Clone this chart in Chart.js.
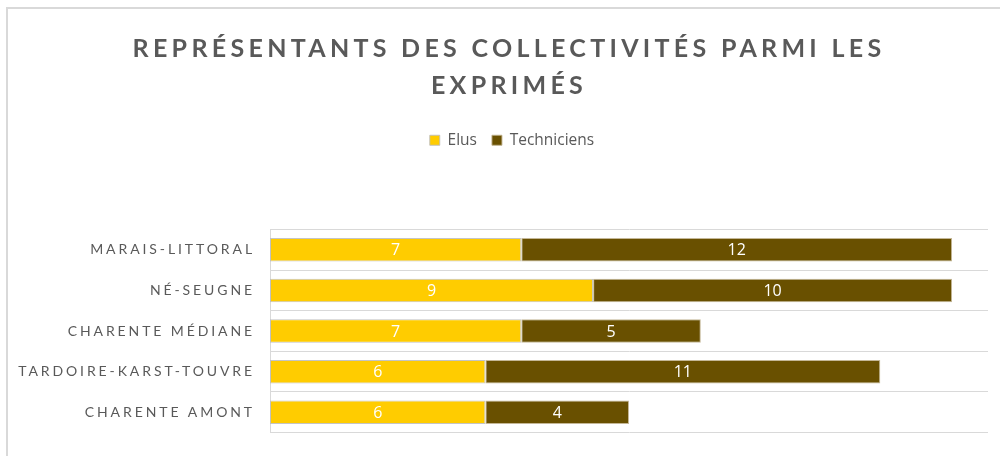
<!DOCTYPE html>
<html><head><meta charset="utf-8">
<script src="https://cdn.jsdelivr.net/npm/chart.js@4.4.0/dist/chart.umd.min.js"></script>
<style>html,body{margin:0;padding:0;background:#fff;}canvas{display:block}</style>
</head><body>
<canvas id="c" width="1000" height="456"></canvas>
<script>
const titleLines = ['REPRÉSENTANTS DES COLLECTIVITÉS PARMI LES', 'EXPRIMÉS'];
const categories = ['MARAIS-LITTORAL', 'NÉ-SEUGNE', 'CHARENTE MÉDIANE', 'TARDOIRE-KARST-TOUVRE', 'CHARENTE AMONT'];
const seriesNames = ['Elus', 'Techniciens'];
const elus = [7, 9, 7, 6, 6];
const techniciens = [12, 10, 5, 11, 4];
const axisMin = 0;
const axisMax = 20;

const FONT = 'Lato';
const GREY = '#595959';
const CAT_SPACING = '2.9px';
const TITLE_SPACING = '4.3px';
const HEADER_SHIFT = 15;

Chart.defaults.font.family = FONT;

function patchDraw(obj, fn) {
  if (!obj || obj._patched) return;
  const orig = obj.draw;
  obj.draw = function (area) {
    const cx = this.ctx; cx.save(); fn(cx); orig.call(this, area); cx.restore();
  };
  obj._patched = true;
}

const framePlugin = {
  id: 'frame',
  beforeDraw(chart) {
    const c = chart.ctx;
    c.save();
    c.fillStyle = '#ffffff';
    c.fillRect(0, 0, chart.width, chart.height);
    c.fillStyle = '#d9d9d9';
    c.fillRect(6, 7, chart.width - 6, 2);
    c.fillRect(6, 7, 2, chart.height - 7);
    c.restore();
    const ys = chart.scales.y;
    if (ys && !ys._lsPatched) {
      const orig = ys.drawLabels;
      ys.drawLabels = function (area) {
        const cx = this.ctx; cx.save(); cx.letterSpacing = CAT_SPACING; orig.call(this, area); cx.restore();
      };
      ys._lsPatched = true;
    }
    patchDraw(chart.titleBlock, (cx) => { cx.translate(HEADER_SHIFT, 0); cx.letterSpacing = TITLE_SPACING; });
    patchDraw(chart.legend, (cx) => { cx.translate(HEADER_SHIFT + 3, 0); });
  }
};

const labelPlugin = {
  id: 'segLabels',
  afterDatasetsDraw(chart) {
    const c = chart.ctx;
    c.save();
    c.font = '16px "Open Sans"';
    c.fillStyle = '#ffffff';
    c.textAlign = 'center';
    c.textBaseline = 'middle';
    chart.data.datasets.forEach((ds, di) => {
      const meta = chart.getDatasetMeta(di);
      meta.data.forEach((el, i) => {
        const p = el.getCenterPoint();
        c.fillText(String(ds.data[i]), p.x, p.y + 1);
      });
    });
    c.restore();
  }
};

new Chart(document.getElementById('c'), {
  type: 'bar',
  data: {
    labels: categories,
    datasets: [
      { label: seriesNames[0], data: elus, backgroundColor: '#FFCC00', borderColor: 'rgba(190,190,190,0.9)', borderWidth: 1, borderSkipped: false, barPercentage: 0.58, categoryPercentage: 1 },
      { label: seriesNames[1], data: techniciens, backgroundColor: '#695000', borderColor: 'rgba(190,175,140,0.9)', borderWidth: 1, borderSkipped: false, barPercentage: 0.58, categoryPercentage: 1 }
    ]
  },
  options: {
    indexAxis: 'y',
    responsive: false,
    animation: false,
    layout: { padding: { left: 0, right: 12, top: 0, bottom: 19 } },
    plugins: {
      title: {
        display: true,
        text: titleLines,
        color: GREY,
        font: { family: FONT, size: 25, weight: 'bold', lineHeight: 1.48 },
        padding: { top: 30, bottom: 13.5 }
      },
      legend: {
        display: true,
        position: 'top',
        labels: { color: GREY, font: { family: 'Open Sans', size: 15.5 }, boxWidth: 10, boxHeight: 10, padding: 15 }
      },
      tooltip: { enabled: false }
    },
    scales: {
      x: {
        position: 'top', stacked: true, min: axisMin, max: axisMax,
        ticks: { display: false }, grid: { display: false }, border: { display: false },
        afterFit(s) { s.height = 71.5; }
      },
      y: {
        stacked: true,
        ticks: { color: GREY, font: { family: FONT, size: 14 }, padding: 15 },
        grid: { color: '#d9d9d9', drawTicks: false, offset: true },
        border: { display: true, color: '#d9d9d9' },
        afterFit(s) { s.width = 270; }
      }
    }
  },
  plugins: [framePlugin, labelPlugin]
});
</script>
</body></html>
